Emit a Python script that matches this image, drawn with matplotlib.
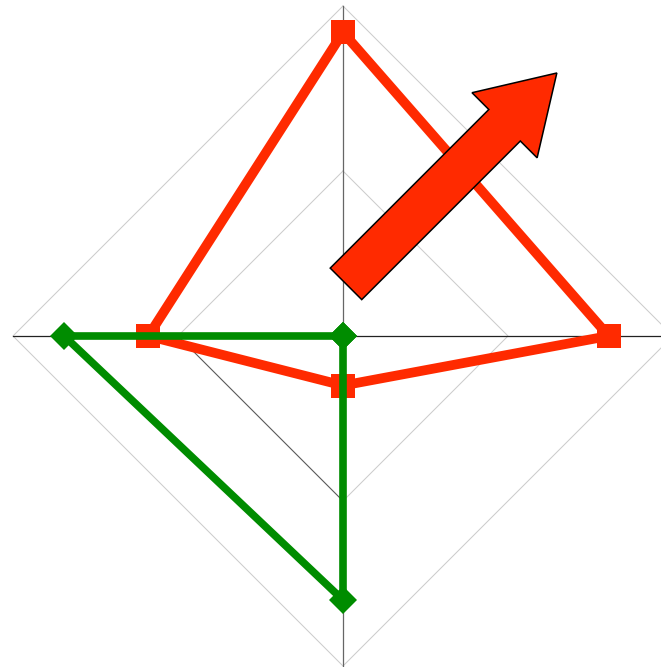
import numpy as np
import matplotlib.pyplot as plt
from matplotlib.patches import FancyArrow

# spokes: top, right, bottom, left
angles_deg = [90, 0, -90, 180]
rings = [1.0, 2.0]
r_max = 2.0

red_vals = [1.84, 1.61, 0.30, 1.18]
green_vals = [0.0, 0.0, 1.60, 1.69]

RED = '#ff2a00'
GREEN = '#008c00'


def to_xy(vals):
    a = np.radians(angles_deg)
    r = np.array(vals) / r_max
    x = r * np.cos(a)
    y = r * np.sin(a)
    # close the polygon
    return np.append(x, x[0]), np.append(y, y[0])


fig = plt.figure(figsize=(6.61, 6.67), dpi=100)
ax = fig.add_axes([0, 0, 1, 1])
ax.set_xlim(-343 / 330, (661 - 343) / 330)
ax.set_ylim(-(667 - 336) / 330, 336 / 330)
ax.set_aspect('equal')
ax.axis('off')

# diamond grid
for ring in rings:
    gx, gy = to_xy([ring] * len(angles_deg))
    ax.plot(gx, gy, color='#cccccc', lw=0.75, zorder=1)
# darker piece of the inner ring (left -> bottom)
ax.plot([-rings[0] / r_max, 0], [0, -rings[0] / r_max], color='#555555', lw=0.7, zorder=1)

# spokes
ax.plot([0, 0], [-1, 1], color='#666666', lw=0.9, zorder=1)
ax.plot([-1, 1], [0, 0], color='#222222', lw=0.9, zorder=1)

rx, ry = to_xy(red_vals)
ax.plot(rx, ry, color=RED, lw=7, marker='s', ms=17, mew=0, zorder=3)

gx, gy = to_xy(green_vals)
ax.plot(gx, gy, color=GREEN, lw=5.5, marker='D', ms=14.5, mew=0, zorder=4)

# arrow annotation
tail = (0.009, 0.158)
tip = (0.648, 0.797)
arrow = FancyArrow(tail[0], tail[1], tip[0] - tail[0], tip[1] - tail[1],
                   width=0.135, head_width=0.279, head_length=0.224,
                   length_includes_head=True, facecolor=RED,
                   edgecolor='black', linewidth=1.1, zorder=5)
ax.add_patch(arrow)

fig.savefig('out.png', dpi=100)
